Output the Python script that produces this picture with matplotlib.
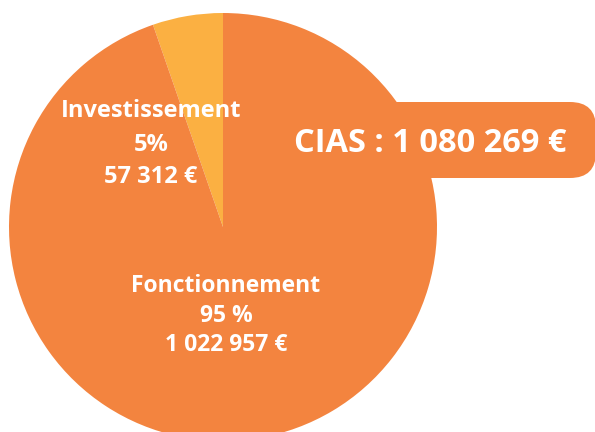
import matplotlib
matplotlib.use("Agg")
import matplotlib.pyplot as plt
from matplotlib.patches import FancyBboxPatch

categories = ["Investissement", "Fonctionnement"]
values = [57312, 1022957]
pct_labels = ["5%", "95 %"]
amount_labels = ["57 312 €", "1 022 957 €"]
total_label = "CIAS : 1 080 269 €"
colors = ["#FBB042", "#F3843F"]

W, H = 595, 432
fig = plt.figure(figsize=(W / 100, H / 100), dpi=100)
ax = fig.add_axes([0, 0, 1, 1])

cx, cy, r = 223, H - 227, 214
ax.pie(values, colors=colors, startangle=90, counterclock=True,
       center=(cx, cy), radius=r, wedgeprops=dict(linewidth=0))

box = FancyBboxPatch((300, H - 178), 296, 76,
                     boxstyle="round,pad=0,rounding_size=26",
                     facecolor=colors[1], edgecolor="none")
ax.add_patch(box)

ax.set_xlim(0, W)
ax.set_ylim(0, H)
ax.set_aspect("equal")
ax.set_axis_off()

font = "Open Sans"
ax.text(430, H - 143, total_label, ha="center", va="center", color="white",
        fontsize=23.5, fontweight="bold", family=font)

fs1 = 17
ax.text(151, H - 111, categories[0], ha="center", va="center", color="white",
        fontsize=fs1, fontweight="bold", family=font)
ax.text(151, H - 145, pct_labels[0], ha="center", va="center", color="white",
        fontsize=fs1, fontweight="bold", family=font)
ax.text(151, H - 177, amount_labels[0], ha="center", va="center", color="white",
        fontsize=fs1, fontweight="bold", family=font)

fs2 = 16.5
ax.text(226, H - 286, categories[1], ha="center", va="center", color="white",
        fontsize=fs2, fontweight="bold", family=font)
ax.text(226, H - 316, pct_labels[1], ha="center", va="center", color="white",
        fontsize=fs2, fontweight="bold", family=font)
ax.text(226, H - 345, amount_labels[1], ha="center", va="center", color="white",
        fontsize=fs2, fontweight="bold", family=font)

fig.savefig("out.png", dpi=100)
